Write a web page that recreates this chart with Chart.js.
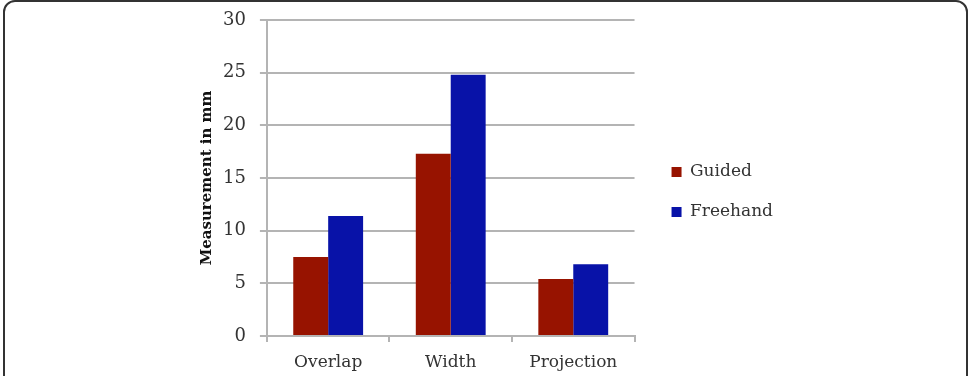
<!DOCTYPE html>
<html>
<head>
<meta charset="utf-8">
<script src="https://cdn.jsdelivr.net/npm/chart.js@4"></script>
<style>
  html, body { margin: 0; padding: 0; background: #fff; }
  body { width: 969px; height: 376px; overflow: hidden; position: relative; }
  .frame {
    position: absolute; left: 3px; top: 0px; width: 965px; height: 400px;
    border: 2px solid #333; border-radius: 12px; box-sizing: border-box;
  }
  #wrap { position: absolute; left: 0; top: 0; width: 969px; height: 376px; }
</style>
</head>
<body>
<div class="frame"></div>
<div id="wrap"><canvas id="chart"></canvas></div>
<script>
// Values
const categories = ['Overlap', 'Width', 'Projection'];
const guided = [7.5, 17.3, 5.4];
const freehand = [11.4, 24.8, 6.8];
const yTicks = [0, 5, 10, 15, 20, 25, 30];

const FONT = '"DejaVu Serif", "Liberation Serif", serif';
const gridColor = '#b4b4b4';

// push the legend a bit away from the plot (and slightly up)
const legendShift = {
    id: 'legendShift',
    afterLayout(chart) {
        const lg = chart.legend;
        if (lg) {
            lg.left += 14;
            lg.right += 14;
            lg.top -= 6;
            lg.bottom -= 6;
        }
    }
};

const ctx = document.getElementById('chart').getContext('2d');
new Chart(ctx, {
    type: 'bar',
    data: {
        labels: categories,
        datasets: [
            {
                label: 'Guided',
                data: guided,
                backgroundColor: '#971300',
                borderWidth: 0,
                categoryPercentage: 0.57,
                barPercentage: 1.0
            },
            {
                label: 'Freehand',
                data: freehand,
                backgroundColor: '#0812a8',
                borderWidth: 0,
                categoryPercentage: 0.57,
                barPercentage: 1.0
            }
        ]
    },
    options: {
        responsive: true,
        maintainAspectRatio: false,
        animation: false,
        layout: {
            padding: { left: 198, right: 200, top: 20, bottom: 0 }
        },
        scales: {
            x: {
                grid: {
                    color: gridColor,
                    lineWidth: 2,
                    drawOnChartArea: false,
                    tickLength: 6
                },
                border: { color: gridColor, width: 2 },
                ticks: {
                    color: '#333',
                    font: { family: FONT, size: 17 },
                    padding: 10,
                    maxRotation: 0
                },
                afterFit: axis => { axis.height = 40; }
            },
            y: {
                min: 0,
                max: 30,
                afterBuildTicks: axis => {
                    axis.ticks = yTicks.map(v => ({ value: v }));
                },
                grid: {
                    color: gridColor,
                    lineWidth: 2,
                    tickLength: 7
                },
                border: { color: gridColor, width: 2 },
                ticks: {
                    color: '#333',
                    font: { family: FONT, size: 18 },
                    padding: 14
                },
                title: {
                    display: true,
                    text: 'Measurement in mm',
                    color: '#111',
                    font: { family: FONT, size: 15, weight: 'bold' },
                    padding: 0
                },
                afterFit: axis => {
                    axis.width -= 7;
                    axis.paddingTop = 0;
                    axis.paddingBottom = 0;
                }
            }
        },
        plugins: {
            legend: {
                position: 'right',
                labels: {
                    color: '#333',
                    font: { family: FONT, size: 17 },
                    boxWidth: 10,
                    boxHeight: 10,
                    padding: 23
                }
            },
            tooltip: { enabled: false }
        }
    },
    plugins: [legendShift]
});
</script>
</body>
</html>
